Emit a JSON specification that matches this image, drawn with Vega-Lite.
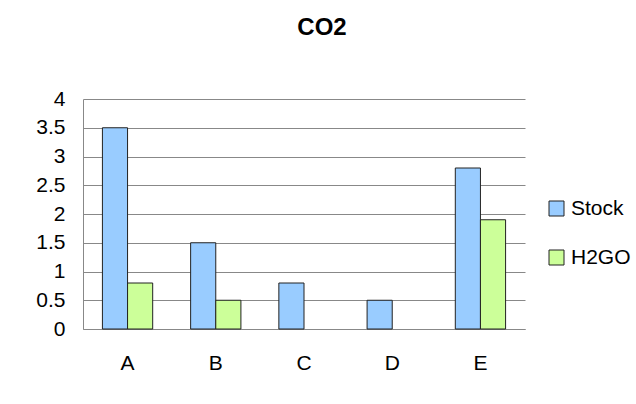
{
  "$schema": "https://vega.github.io/schema/vega-lite/v6.json",
  "autosize": "none",
  "width": 442,
  "height": 230,
  "padding": {"left": 83, "top": 99, "right": 111, "bottom": 75},
  "background": "white",
  "title": {"text": "CO2", "font": "Liberation Sans", "fontSize": 24, "fontWeight": "bold", "color": "black", "anchor": "middle", "offset": 48, "frame": "group", "dx": 18},
  "data": {"values": [
    {"cat": "A", "series": "Stock", "value": 3.5},
    {"cat": "A", "series": "H2GO", "value": 0.8},
    {"cat": "B", "series": "Stock", "value": 1.5},
    {"cat": "B", "series": "H2GO", "value": 0.5},
    {"cat": "C", "series": "Stock", "value": 0.8},
    {"cat": "C", "series": "H2GO", "value": 0},
    {"cat": "D", "series": "Stock", "value": 0.5},
    {"cat": "D", "series": "H2GO", "value": 0},
    {"cat": "E", "series": "Stock", "value": 2.8},
    {"cat": "E", "series": "H2GO", "value": 1.9}
  ]},
  "transform": [{"filter": "datum.value > 0"}],
  "mark": {"type": "bar", "stroke": "#222222", "strokeWidth": 1},
  "encoding": {
    "x": {"field": "cat", "type": "nominal", "title": null,
      "scale": {"domain": ["A", "B", "C", "D", "E"], "paddingInner": 0.43, "paddingOuter": 0.22},
      "axis": {"labelAngle": 0, "labelFont": "Liberation Sans", "labelFontSize": 21, "labelColor": "black", "labelPadding": 23, "ticks": false, "domainColor": "#888888", "grid": false}},
    "xOffset": {"field": "series", "type": "nominal", "scale": {"domain": ["Stock", "H2GO"], "paddingInner": 0, "paddingOuter": 0}},
    "y": {"field": "value", "type": "quantitative", "title": null,
      "scale": {"domain": [0, 4], "nice": false},
      "axis": {"values": [0, 0.5, 1, 1.5, 2, 2.5, 3, 3.5, 4], "format": "~g", "labelFont": "Liberation Sans", "labelFontSize": 21, "labelColor": "black", "labelPadding": 18, "ticks": false, "domainColor": "#888888", "gridColor": "#888888", "gridOpacity": 1}},
    "color": {"field": "series", "type": "nominal",
      "scale": {"domain": ["Stock", "H2GO"], "range": ["#99CCFF", "#CCFF99"]},
      "legend": {"title": null, "orient": "none", "legendX": 463, "legendY": 99, "symbolType": "square", "symbolSize": 225, "symbolStrokeColor": "#222222", "symbolStrokeWidth": 1, "labelFont": "Liberation Sans", "labelFontSize": 21, "labelColor": "black", "rowPadding": 27, "labelOffset": 4}}
  },
  "config": {"view": {"stroke": null}}
}
